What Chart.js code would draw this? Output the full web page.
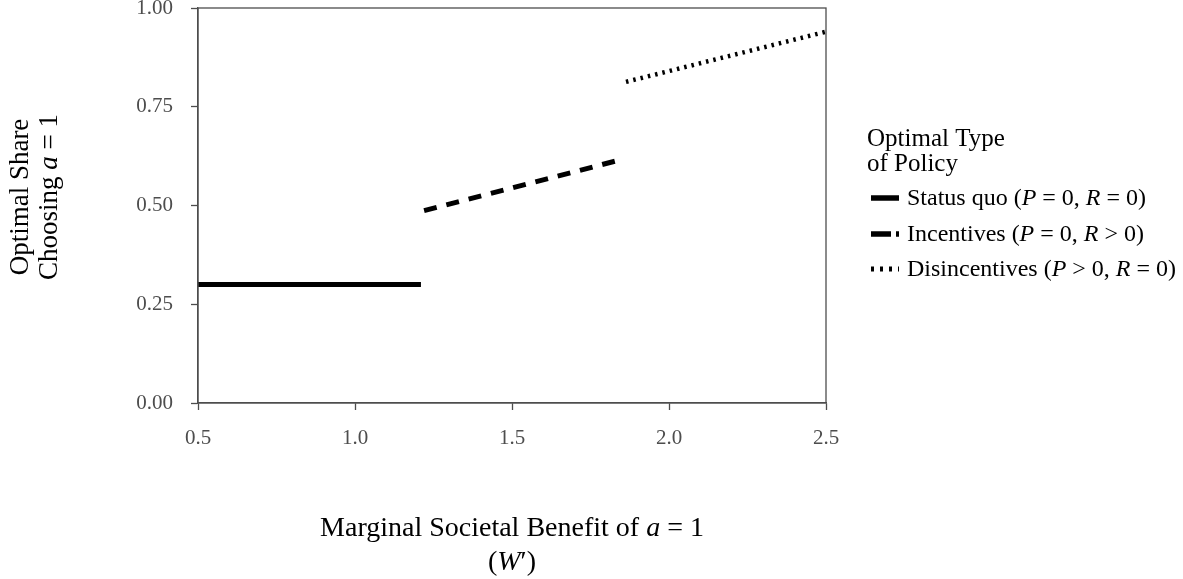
<!DOCTYPE html>
<html>
<head>
<meta charset="utf-8">
<title>Optimal Share Choosing a = 1</title>
<script src="https://cdn.jsdelivr.net/npm/chart.js@4.4.1/dist/chart.umd.min.js"></script>
<style>
    html, body { margin: 0; padding: 0; background: #ffffff; }
    #wrap { width: 1183px; height: 579px; }
</style>
</head>
<body>
<div id="wrap"><canvas id="chart" width="1183" height="579"></canvas></div>
<script>
// Values
const statusQuoX = [0.5, 1.21];
const statusQuoY = [0.30, 0.30];
const incentivesX = [1.22, 1.852];
const incentivesY = [0.487, 0.617];
const disincentivesX = [1.863, 2.5];
const disincentivesY = [0.813, 0.94];

const xTicks = [0.5, 1.0, 1.5, 2.0, 2.5];
const yTicks = [0, 0.25, 0.5, 0.75, 1.0];

// $...$ marks math italics
const seriesLabels = [
    'Status quo ($P$ = 0, $R$ = 0)',
    'Incentives ($P$ = 0, $R$ > 0)',
    'Disincentives ($P$ > 0, $R$ = 0)'
];
const legendTitle = ['Optimal Type', 'of Policy'];
const xTitle = ['Marginal Societal Benefit of $a$ = 1', '($W$\u2032)'];
const yTitle = ['Optimal Share', 'Choosing $a$ = 1'];

const FONT = '"Liberation Serif", "Times New Roman", serif';
const AXIS_GREY = '#4d4d4d';

// line styles per series
const lineStyles = [
    { width: 5, dash: [], keyDash: [] },
    { width: 5, dash: [13, 10], keyDash: [20, 5] },
    { width: 4.5, dash: [2.5, 5], keyDash: [3, 6] }
];

function toPoints(xs, ys) {
    return xs.map((x, i) => ({ x: x, y: ys[i] }));
}

// Draw a string with $..$ parts in italics
function drawRich(ctx, str, x, y, size, align) {
    const parts = str.split('$').map((t, i) => ({ t: t, it: i % 2 === 1 }));
    const fontFor = p => (p.it ? 'italic ' : '') + size + 'px ' + FONT;
    let w = 0;
    parts.forEach(p => { ctx.font = fontFor(p); w += ctx.measureText(p.t).width; });
    let cx = align === 'center' ? x - w / 2 : x;
    ctx.textAlign = 'left';
    ctx.textBaseline = 'alphabetic';
    parts.forEach(p => {
        ctx.font = fontFor(p);
        ctx.fillText(p.t, cx, y);
        cx += ctx.measureText(p.t).width;
    });
}

// Frame, axis titles and legend
const decorations = {
    id: 'decorations',
    afterDraw(chart) {
        const ctx = chart.ctx;
        const a = chart.chartArea;
        ctx.save();

        // full box around the panel
        ctx.strokeStyle = AXIS_GREY;
        ctx.lineWidth = 1.3;
        ctx.strokeRect(a.left, a.top, a.right - a.left, a.bottom - a.top);

        ctx.fillStyle = '#000000';

        // x title
        const midX = (a.left + a.right) / 2;
        drawRich(ctx, xTitle[0], midX, 536, 28, 'center');
        drawRich(ctx, xTitle[1], midX, 570, 28, 'center');

        // y title
        const midY = 197;
        [28, 57].forEach((bx, i) => {
            ctx.save();
            ctx.translate(bx, midY);
            ctx.rotate(-Math.PI / 2);
            drawRich(ctx, yTitle[i], 0, 0, 27, 'center');
            ctx.restore();
        });

        // legend
        drawRich(ctx, legendTitle[0], 867, 146, 25, 'left');
        drawRich(ctx, legendTitle[1], 867, 171, 25, 'left');
        const keyY = [198, 234, 269];
        seriesLabels.forEach((label, i) => {
            const st = lineStyles[i];
            ctx.beginPath();
            ctx.lineWidth = st.width + 0.5;
            ctx.lineCap = 'butt';
            ctx.strokeStyle = '#000000';
            ctx.setLineDash(st.keyDash);
            ctx.moveTo(871, keyY[i]);
            ctx.lineTo(899, keyY[i]);
            ctx.stroke();
            ctx.setLineDash([]);
            drawRich(ctx, label, 907, keyY[i] + 7, 24, 'left');
        });

        ctx.restore();
    }
};

const seriesData = [
    toPoints(statusQuoX, statusQuoY),
    toPoints(incentivesX, incentivesY),
    toPoints(disincentivesX, disincentivesY)
];

new Chart(document.getElementById('chart'), {
    type: 'scatter',
    data: {
        datasets: seriesData.map((pts, i) => ({
            label: seriesLabels[i],
            data: pts,
            showLine: true,
            borderColor: '#000000',
            backgroundColor: '#000000',
            borderWidth: lineStyles[i].width,
            borderDash: lineStyles[i].dash,
            borderCapStyle: 'butt',
            pointRadius: 0,
            pointHoverRadius: 0
        }))
    },
    options: {
        responsive: false,
        animation: false,
        devicePixelRatio: 1,
        layout: { padding: { top: 8, right: 357, bottom: 0, left: 0 } },
        plugins: {
            legend: { display: false },
            tooltip: { enabled: false }
        },
        scales: {
            x: {
                type: 'linear',
                min: 0.5,
                max: 2.5,
                afterBuildTicks: axis => { axis.ticks = xTicks.map(v => ({ value: v })); },
                afterFit: axis => {
                    axis.height = 176;
                    axis.paddingLeft = 0;
                    axis.paddingRight = 0;
                },
                grid: { drawOnChartArea: false, tickLength: 7, tickColor: AXIS_GREY, tickWidth: 1.3 },
                border: { color: AXIS_GREY, width: 1.3 },
                ticks: {
                    color: AXIS_GREY,
                    padding: 16,
                    maxRotation: 0,
                    font: { family: FONT, size: 21 },
                    callback: v => Number(v).toFixed(1)
                }
            },
            y: {
                type: 'linear',
                min: 0,
                max: 1,
                afterBuildTicks: axis => { axis.ticks = yTicks.map(v => ({ value: v })); },
                afterFit: axis => {
                    axis.width = 198;
                    axis.paddingTop = 0;
                    axis.paddingBottom = 0;
                },
                grid: { drawOnChartArea: false, tickLength: 7, tickColor: AXIS_GREY, tickWidth: 1.3 },
                border: { color: AXIS_GREY, width: 1.3 },
                ticks: {
                    color: AXIS_GREY,
                    padding: 18,
                    font: { family: FONT, size: 21 },
                    callback: v => Number(v).toFixed(2)
                }
            }
        }
    },
    plugins: [decorations]
});
</script>
</body>
</html>
